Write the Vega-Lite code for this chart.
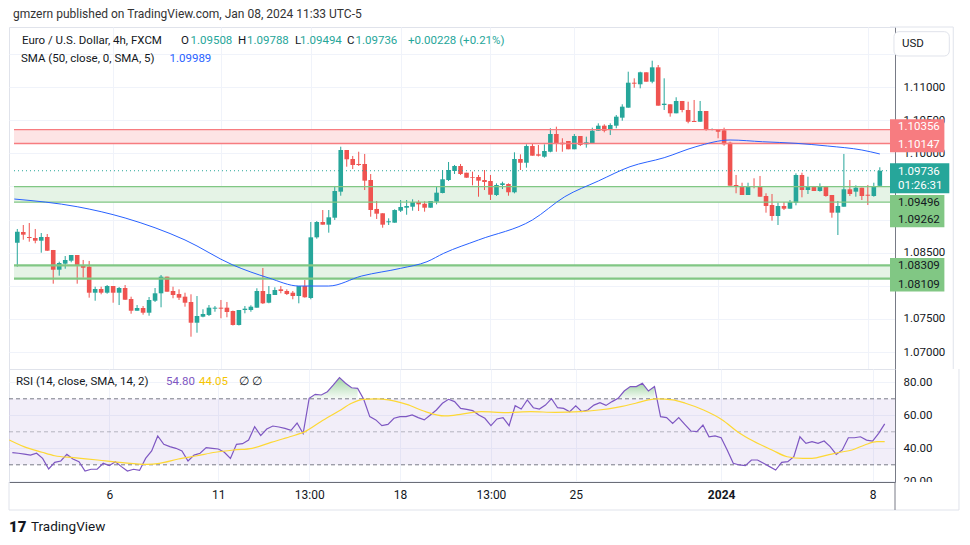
{
"$schema":"https://vega.github.io/schema/vega-lite/v6.json",
"background":"white",
"padding":{"left":6,"top":8,"right":5,"bottom":5},
"title":{"text":"gmzern published on TradingView.com, Jan 08, 2024 11:33 UTC-5","anchor":"start","frame":"group","font":"Roboto","fontSize":12,"fontWeight":"normal","color":"#333333","offset":5,"dx":4},
"config":{"view":{"stroke":"#e0e3eb"},"axis":{"labelFont":"Roboto","labelFontSize":11.5,"labelColor":"#131722","ticks":false,"gridColor":"#f0f3fa","domainColor":"#787b86","labelOverlap":false},"text":{"font":"Roboto","fontSize":11.5}},
"spacing":0,
"bounds":"flush",
"resolve":{"scale":{"x":"independent","y":"independent"}},
"datasets":{
"candles":[
{"i":0,"o":1.0865,"h":1.08857,"l":1.08288,"c":1.08816},
{"i":1,"o":1.08811,"h":1.08917,"l":1.08695,"c":1.08771},
{"i":2,"o":1.08736,"h":1.08947,"l":1.08665,"c":1.08721},
{"i":3,"o":1.08721,"h":1.08857,"l":1.08641,"c":1.0868},
{"i":4,"o":1.0868,"h":1.08796,"l":1.08499,"c":1.08736},
{"i":5,"o":1.08736,"h":1.08781,"l":1.08525,"c":1.08529},
{"i":6,"o":1.0854,"h":1.0854,"l":1.08031,"c":1.08242},
{"i":7,"o":1.08242,"h":1.08363,"l":1.08152,"c":1.08343},
{"i":8,"o":1.08333,"h":1.08449,"l":1.08257,"c":1.08389},
{"i":9,"o":1.08378,"h":1.08464,"l":1.08354,"c":1.08464},
{"i":10,"o":1.08464,"h":1.08464,"l":1.08031,"c":1.08298},
{"i":11,"o":1.08313,"h":1.08389,"l":1.08122,"c":1.08272},
{"i":12,"o":1.08288,"h":1.08374,"l":1.0782,"c":1.07895},
{"i":13,"o":1.07895,"h":1.07986,"l":1.07774,"c":1.07951},
{"i":14,"o":1.07951,"h":1.07986,"l":1.07871,"c":1.07895},
{"i":15,"o":1.07895,"h":1.08011,"l":1.0788,"c":1.07996},
{"i":16,"o":1.07996,"h":1.07996,"l":1.07744,"c":1.07895},
{"i":17,"o":1.07895,"h":1.07981,"l":1.07709,"c":1.07966},
{"i":18,"o":1.07966,"h":1.08011,"l":1.07789,"c":1.07789},
{"i":19,"o":1.078,"h":1.07835,"l":1.07578,"c":1.07623},
{"i":20,"o":1.07623,"h":1.07709,"l":1.07623,"c":1.07664},
{"i":21,"o":1.07664,"h":1.07694,"l":1.07563,"c":1.07593},
{"i":22,"o":1.07593,"h":1.0783,"l":1.07548,"c":1.07785},
{"i":23,"o":1.07774,"h":1.07966,"l":1.07755,"c":1.07886},
{"i":24,"o":1.07886,"h":1.08162,"l":1.07675,"c":1.08137},
{"i":25,"o":1.08137,"h":1.08137,"l":1.0791,"c":1.0791},
{"i":26,"o":1.07921,"h":1.07986,"l":1.07811,"c":1.0786},
{"i":27,"o":1.07875,"h":1.07946,"l":1.07785,"c":1.0782},
{"i":28,"o":1.07835,"h":1.07895,"l":1.07684,"c":1.07744},
{"i":29,"o":1.07755,"h":1.07871,"l":1.07231,"c":1.07442},
{"i":30,"o":1.07442,"h":1.07845,"l":1.07291,"c":1.07543},
{"i":31,"o":1.07533,"h":1.07645,"l":1.07524,"c":1.07574},
{"i":32,"o":1.07559,"h":1.07709,"l":1.07543,"c":1.07669},
{"i":33,"o":1.07654,"h":1.07694,"l":1.07608,"c":1.07669},
{"i":34,"o":1.07669,"h":1.07785,"l":1.07509,"c":1.07654},
{"i":35,"o":1.07669,"h":1.07755,"l":1.07524,"c":1.07604},
{"i":36,"o":1.07619,"h":1.07625,"l":1.074,"c":1.07408},
{"i":37,"o":1.07408,"h":1.07634,"l":1.074,"c":1.07634},
{"i":38,"o":1.07634,"h":1.07694,"l":1.07584,"c":1.07654},
{"i":39,"o":1.07634,"h":1.07705,"l":1.07608,"c":1.07684},
{"i":40,"o":1.07669,"h":1.07962,"l":1.07669,"c":1.07921},
{"i":41,"o":1.07921,"h":1.08268,"l":1.07725,"c":1.07735},
{"i":42,"o":1.07744,"h":1.07996,"l":1.07735,"c":1.07875},
{"i":43,"o":1.0786,"h":1.07977,"l":1.0786,"c":1.07936},
{"i":44,"o":1.07946,"h":1.07996,"l":1.07886,"c":1.07921},
{"i":45,"o":1.07921,"h":1.07946,"l":1.0786,"c":1.07875},
{"i":46,"o":1.07895,"h":1.07921,"l":1.07796,"c":1.07845},
{"i":47,"o":1.07845,"h":1.07996,"l":1.07735,"c":1.07996},
{"i":48,"o":1.07996,"h":1.08087,"l":1.0782,"c":1.07826},
{"i":49,"o":1.07815,"h":1.08962,"l":1.07796,"c":1.08731},
{"i":50,"o":1.08731,"h":1.08977,"l":1.0871,"c":1.08962},
{"i":51,"o":1.08962,"h":1.09143,"l":1.08922,"c":1.08922},
{"i":52,"o":1.08922,"h":1.09143,"l":1.08801,"c":1.09033},
{"i":53,"o":1.09027,"h":1.09506,"l":1.08993,"c":1.0943},
{"i":54,"o":1.0942,"h":1.10099,"l":1.09359,"c":1.10049},
{"i":55,"o":1.10049,"h":1.10049,"l":1.09797,"c":1.09909},
{"i":56,"o":1.09913,"h":1.09959,"l":1.09762,"c":1.09823},
{"i":57,"o":1.09838,"h":1.10023,"l":1.09808,"c":1.09823},
{"i":58,"o":1.09838,"h":1.09989,"l":1.09445,"c":1.09586},
{"i":59,"o":1.09596,"h":1.09687,"l":1.09042,"c":1.09143},
{"i":60,"o":1.09159,"h":1.09279,"l":1.09008,"c":1.09088},
{"i":61,"o":1.09094,"h":1.09094,"l":1.08876,"c":1.08922},
{"i":62,"o":1.08958,"h":1.09018,"l":1.08917,"c":1.08973},
{"i":63,"o":1.08952,"h":1.09154,"l":1.08952,"c":1.09143},
{"i":64,"o":1.09133,"h":1.09294,"l":1.09113,"c":1.09189},
{"i":65,"o":1.09178,"h":1.09294,"l":1.09072,"c":1.09204},
{"i":66,"o":1.09193,"h":1.09305,"l":1.09133,"c":1.09264},
{"i":67,"o":1.09264,"h":1.0929,"l":1.09128,"c":1.09229},
{"i":68,"o":1.09238,"h":1.09275,"l":1.09118,"c":1.09178},
{"i":69,"o":1.09178,"h":1.09279,"l":1.09178,"c":1.09279},
{"i":70,"o":1.09269,"h":1.09495,"l":1.09229,"c":1.09405},
{"i":71,"o":1.094,"h":1.09747,"l":1.09395,"c":1.09607},
{"i":72,"o":1.09596,"h":1.09868,"l":1.09581,"c":1.09747},
{"i":73,"o":1.09732,"h":1.09823,"l":1.09687,"c":1.09808},
{"i":74,"o":1.09808,"h":1.09838,"l":1.09672,"c":1.09687},
{"i":75,"o":1.09706,"h":1.09706,"l":1.09631,"c":1.09631},
{"i":76,"o":1.09642,"h":1.09722,"l":1.09516,"c":1.09631},
{"i":77,"o":1.09642,"h":1.09672,"l":1.09344,"c":1.09586},
{"i":78,"o":1.09596,"h":1.09747,"l":1.09445,"c":1.09566},
{"i":79,"o":1.09581,"h":1.09672,"l":1.09294,"c":1.09374},
{"i":80,"o":1.0937,"h":1.09546,"l":1.09355,"c":1.09521},
{"i":81,"o":1.09521,"h":1.09571,"l":1.0946,"c":1.09546},
{"i":82,"o":1.09536,"h":1.09546,"l":1.09359,"c":1.09411},
{"i":83,"o":1.09411,"h":1.10014,"l":1.09395,"c":1.09913},
{"i":84,"o":1.09913,"h":1.09984,"l":1.09747,"c":1.09857},
{"i":85,"o":1.09857,"h":1.10135,"l":1.09782,"c":1.10109},
{"i":86,"o":1.10109,"h":1.1014,"l":1.09963,"c":1.09963},
{"i":87,"o":1.09984,"h":1.10125,"l":1.09951,"c":1.09963},
{"i":88,"o":1.09948,"h":1.10135,"l":1.09933,"c":1.10034},
{"i":89,"o":1.10023,"h":1.10377,"l":1.10014,"c":1.10291},
{"i":90,"o":1.10291,"h":1.10401,"l":1.10023,"c":1.1014},
{"i":91,"o":1.10159,"h":1.10226,"l":1.10023,"c":1.10135},
{"i":92,"o":1.10185,"h":1.10185,"l":1.1006,"c":1.1006},
{"i":93,"o":1.1006,"h":1.10291,"l":1.1006,"c":1.1026},
{"i":94,"o":1.1026,"h":1.1026,"l":1.10109,"c":1.10125},
{"i":95,"o":1.10135,"h":1.1025,"l":1.10084,"c":1.10165},
{"i":96,"o":1.1015,"h":1.10386,"l":1.1015,"c":1.1034},
{"i":97,"o":1.1034,"h":1.10452,"l":1.1034,"c":1.10416},
{"i":98,"o":1.10416,"h":1.10437,"l":1.10316,"c":1.1034},
{"i":99,"o":1.10351,"h":1.10452,"l":1.10275,"c":1.10426},
{"i":100,"o":1.10416,"h":1.10577,"l":1.10377,"c":1.10552},
{"i":101,"o":1.10537,"h":1.10739,"l":1.10491,"c":1.10703},
{"i":102,"o":1.10688,"h":1.11231,"l":1.10688,"c":1.11065},
{"i":103,"o":1.11065,"h":1.11131,"l":1.10989,"c":1.1105},
{"i":104,"o":1.11041,"h":1.11231,"l":1.1098,"c":1.11222},
{"i":105,"o":1.11222,"h":1.11222,"l":1.1108,"c":1.1108},
{"i":106,"o":1.1108,"h":1.11397,"l":1.11056,"c":1.11297},
{"i":107,"o":1.11297,"h":1.11332,"l":1.10718,"c":1.10718},
{"i":108,"o":1.10728,"h":1.11131,"l":1.10653,"c":1.10748},
{"i":109,"o":1.10739,"h":1.10739,"l":1.10552,"c":1.10603},
{"i":110,"o":1.10603,"h":1.10845,"l":1.10603,"c":1.10789},
{"i":111,"o":1.10789,"h":1.10789,"l":1.10618,"c":1.10653},
{"i":112,"o":1.10653,"h":1.10778,"l":1.10452,"c":1.10476},
{"i":113,"o":1.10487,"h":1.10804,"l":1.10472,"c":1.10472},
{"i":114,"o":1.10476,"h":1.10789,"l":1.10476,"c":1.10638},
{"i":115,"o":1.10638,"h":1.10638,"l":1.1034,"c":1.10366},
{"i":116,"o":1.10355,"h":1.10374,"l":1.10346,"c":1.10366},
{"i":117,"o":1.10366,"h":1.10366,"l":1.10226,"c":1.10325},
{"i":118,"o":1.10346,"h":1.10386,"l":1.10114,"c":1.10135},
{"i":119,"o":1.10159,"h":1.10174,"l":1.0951,"c":1.0951},
{"i":120,"o":1.09521,"h":1.09672,"l":1.09396,"c":1.09495},
{"i":121,"o":1.09506,"h":1.09555,"l":1.0937,"c":1.0937},
{"i":122,"o":1.0937,"h":1.09555,"l":1.0937,"c":1.09506},
{"i":123,"o":1.09506,"h":1.09622,"l":1.09471,"c":1.09491},
{"i":124,"o":1.09506,"h":1.09657,"l":1.09344,"c":1.09344},
{"i":125,"o":1.09355,"h":1.09396,"l":1.09103,"c":1.09204},
{"i":126,"o":1.09219,"h":1.09385,"l":1.08982,"c":1.09053},
{"i":127,"o":1.09053,"h":1.09254,"l":1.08917,"c":1.09204},
{"i":128,"o":1.09204,"h":1.09264,"l":1.09143,"c":1.09163},
{"i":129,"o":1.09163,"h":1.09294,"l":1.09163,"c":1.09264},
{"i":130,"o":1.09254,"h":1.09697,"l":1.09214,"c":1.09672},
{"i":131,"o":1.09672,"h":1.09706,"l":1.09335,"c":1.09445},
{"i":132,"o":1.09445,"h":1.09646,"l":1.09385,"c":1.09506},
{"i":133,"o":1.09506,"h":1.09506,"l":1.0943,"c":1.0943},
{"i":134,"o":1.0943,"h":1.09546,"l":1.0942,"c":1.09506},
{"i":135,"o":1.09506,"h":1.09506,"l":1.09344,"c":1.09355},
{"i":136,"o":1.0937,"h":1.0937,"l":1.09027,"c":1.09103},
{"i":137,"o":1.09103,"h":1.09279,"l":1.08766,"c":1.09204},
{"i":138,"o":1.09193,"h":1.09989,"l":1.09193,"c":1.09456},
{"i":139,"o":1.09456,"h":1.09596,"l":1.09355,"c":1.09385},
{"i":140,"o":1.0942,"h":1.09516,"l":1.09344,"c":1.0948},
{"i":141,"o":1.0948,"h":1.0948,"l":1.09294,"c":1.09355},
{"i":142,"o":1.09374,"h":1.09521,"l":1.09219,"c":1.09359},
{"i":143,"o":1.09355,"h":1.09555,"l":1.09344,"c":1.09506},
{"i":144,"o":1.09508,"h":1.09788,"l":1.09494,"c":1.09736}
],
"sma":[
{"i":-0.5,"v":1.09309},{"i":10,"v":1.09193},{"i":18,"v":1.09023},{"i":28,"v":1.08691},{"i":36,"v":1.08313},{"i":42,"v":1.08117},{"i":47,"v":1.07996},{"i":52,"v":1.07996},{"i":57.5,"v":1.08147},{"i":64,"v":1.08263},{"i":68.4,"v":1.08363},{"i":71.2,"v":1.0849},{"i":77,"v":1.08691},{"i":86,"v":1.08993},{"i":91.4,"v":1.09344},{"i":97,"v":1.09581},{"i":102.3,"v":1.09797},{"i":108,"v":1.09933},{"i":113.3,"v":1.10099},{"i":119,"v":1.102},{"i":124.4,"v":1.10174},{"i":130,"v":1.1015},{"i":135.3,"v":1.10109},{"i":141,"v":1.10049},{"i":144,"v":1.09989}
],
"rsi":[
{"i":0,"v":37.4},{"i":1,"v":37.0},{"i":2,"v":36.5},{"i":3,"v":35.9},{"i":4,"v":37.0},{"i":5,"v":33.9},{"i":6,"v":27.5},{"i":7,"v":31.5},{"i":8,"v":32.3},{"i":9,"v":36.3},
{"i":10,"v":33.5},{"i":11,"v":31.9},{"i":12,"v":26.2},{"i":13,"v":27.3},{"i":14,"v":27.3},{"i":15,"v":30.9},{"i":16,"v":29.5},{"i":17,"v":31.9},{"i":18,"v":28.9},{"i":19,"v":26.2},
{"i":20,"v":27.3},{"i":21,"v":26.6},{"i":22,"v":33.9},{"i":23,"v":38.4},{"i":24,"v":47.5},{"i":25,"v":42.4},{"i":26,"v":41.0},{"i":27,"v":40.0},{"i":28,"v":38.4},{"i":29,"v":32.3},
{"i":30,"v":35.9},{"i":31,"v":37.0},{"i":32,"v":40.4},{"i":33,"v":40.0},{"i":34,"v":39.6},{"i":35,"v":37.6},{"i":36,"v":33.9},{"i":37,"v":42.4},{"i":38,"v":42.8},{"i":39,"v":45.0},
{"i":40,"v":53.1},{"i":41,"v":47.7},{"i":42,"v":51.7},{"i":43,"v":53.5},{"i":44,"v":52.9},{"i":45,"v":52.1},{"i":46,"v":50.9},{"i":47,"v":55.3},{"i":48,"v":48.9},{"i":49,"v":70.3},
{"i":50,"v":72.7},{"i":51,"v":72.3},{"i":52,"v":74.3},{"i":53,"v":78.4},{"i":54,"v":82.8},{"i":55,"v":79.4},{"i":56,"v":76.7},{"i":57,"v":76.3},{"i":58,"v":69.7},{"i":59,"v":59.2},
{"i":60,"v":57.2},{"i":61,"v":53.7},{"i":62,"v":54.5},{"i":63,"v":58.2},{"i":64,"v":59.2},{"i":65,"v":59.2},{"i":66,"v":60.2},{"i":67,"v":58.6},{"i":68,"v":57.2},{"i":69,"v":60.2},
{"i":70,"v":63.2},{"i":71,"v":67.3},{"i":72,"v":69.7},{"i":73,"v":68.3},{"i":74,"v":64.2},{"i":75,"v":63.6},{"i":76,"v":62.8},{"i":77,"v":60.2},{"i":78,"v":58.2},{"i":79,"v":53.7},
{"i":80,"v":57.8},{"i":81,"v":58.6},{"i":82,"v":53.7},{"i":83,"v":65.8},{"i":84,"v":63.8},{"i":85,"v":69.3},{"i":86,"v":64.6},{"i":87,"v":63.8},{"i":88,"v":66.2},{"i":89,"v":70.1},
{"i":90,"v":64.6},{"i":91,"v":64.2},{"i":92,"v":62.2},{"i":93,"v":65.8},{"i":94,"v":62.2},{"i":95,"v":63.2},{"i":96,"v":66.2},{"i":97,"v":67.7},{"i":98,"v":66.0},{"i":99,"v":68.3},
{"i":100,"v":70.3},{"i":101,"v":74.7},{"i":102,"v":77.4},{"i":103,"v":77.4},{"i":104,"v":79.4},{"i":105,"v":74.7},{"i":106,"v":77.4},{"i":107,"v":59.2},{"i":108,"v":58.6},{"i":109,"v":55.1},
{"i":110,"v":58.6},{"i":111,"v":54.5},{"i":112,"v":50.5},{"i":113,"v":50.1},{"i":114,"v":54.1},{"i":115,"v":47.0},{"i":116,"v":47.5},{"i":117,"v":46.4},{"i":118,"v":39.0},{"i":119,"v":30.9},
{"i":120,"v":29.9},{"i":121,"v":29.5},{"i":122,"v":32.9},{"i":123,"v":32.9},{"i":124,"v":30.9},{"i":125,"v":28.9},{"i":126,"v":26.8},{"i":127,"v":31.5},{"i":128,"v":31.9},{"i":129,"v":34.9},
{"i":130,"v":47.0},{"i":131,"v":43.0},{"i":132,"v":44.0},{"i":133,"v":43.0},{"i":134,"v":44.4},{"i":135,"v":41.0},{"i":136,"v":36.3},{"i":137,"v":39.0},{"i":138,"v":46.4},{"i":139,"v":46.4},
{"i":140,"v":47.0},{"i":141,"v":45.0},{"i":142,"v":44.4},{"i":143,"v":49.1},{"i":144,"v":54.8}
],
"rsima":[
{"i":-0.5,"v":45.0},{"i":1.9,"v":41.0},{"i":4.9,"v":37.6},{"i":7,"v":35.5},{"i":10.1,"v":34.3},{"i":14.1,"v":32.9},{"i":18.2,"v":31.3},{"i":22.3,"v":30.3},{"i":24.3,"v":30.9},{"i":27.4,"v":33.5},{"i":30.5,"v":35.5},{"i":33.5,"v":37.6},{"i":36.6,"v":39.0},{"i":39.6,"v":40.0},{"i":42.7,"v":43.6},{"i":45.8,"v":47.0},{"i":48.3,"v":50.1},{"i":50.9,"v":56.1},{"i":53.9,"v":62.6},{"i":56,"v":67.3},{"i":58,"v":69.7},{"i":60,"v":69.9},{"i":62.1,"v":69.3},{"i":65.1,"v":66.6},{"i":68.2,"v":62.2},{"i":71.3,"v":59.6},{"i":73.3,"v":60.2},{"i":77.4,"v":62.2},{"i":81.5,"v":61.6},{"i":85.6,"v":62.2},{"i":89.6,"v":61.8},{"i":93.7,"v":62.2},{"i":96.8,"v":63.2},{"i":99.8,"v":64.8},{"i":102.9,"v":67.3},{"i":105,"v":69.3},{"i":106.5,"v":69.9},{"i":109,"v":69.3},{"i":111.1,"v":67.3},{"i":114.1,"v":63.2},{"i":117.2,"v":57.2},{"i":119.7,"v":50.1},{"i":122.3,"v":44.4},{"i":125.4,"v":39.0},{"i":127.9,"v":34.9},{"i":130.5,"v":33.9},{"i":132,"v":33.9},{"i":134.5,"v":35.9},{"i":136.6,"v":37.6},{"i":138.6,"v":39.0},{"i":140.7,"v":42.0},{"i":142.7,"v":44.0},{"i":144,"v":44.05}
],
"zones":[
{"kind":"resistance","lo":1.10147,"hi":1.10356},
{"kind":"support","lo":1.09262,"hi":1.09496},
{"kind":"support2","lo":1.08109,"hi":1.08309}
]
},
"vconcat":[
{
"width":886,"height":342,
"layer":[
{"data":{"name":"zones"},"mark":{"type":"rect"},
 "encoding":{"x":{"datum":-0.55,"type":"quantitative"},"x2":{"datum":145.7},"y":{"field":"hi","type":"quantitative"},"y2":{"field":"lo"},
 "fill":{"field":"kind","type":"nominal","scale":{"domain":["resistance","support","support2"],"range":["#fde4e5","#e5f3e6","#e5f3e6"]},"legend":null}}},
{"data":{"name":"candles"},"mark":{"type":"rule","strokeWidth":1},
 "encoding":{"x":{"field":"i","type":"quantitative","scale":{"domain":[-0.55,145.7],"nice":false,"zero":false},"axis":{"values":[16,34,49,64,79,93,117,142],"tickCount":40,"labels":false,"domain":false,"ticks":false,"grid":true,"title":null}},
 "y":{"field":"l","type":"quantitative","scale":{"domain":[1.067434,1.119057],"nice":false,"zero":false},"axis":{"orient":"right","values":[1.07,1.075,1.08,1.085,1.09,1.095,1.1,1.105,1.11,1.115],"tickCount":40,"labelExpr":"(abs(datum.value-1.08)<0.0001 || abs(datum.value-1.09)<0.0001 || abs(datum.value-1.095)<0.0001 || abs(datum.value-1.115)<0.0001) ? '' : format(datum.value, '.5f')","labelPadding":8,"labelOverlap":false,"labelBound":false,"grid":true,"domain":true,"title":null}},
 "y2":{"field":"h"},
 "color":{"condition":{"test":"datum.c >= datum.o","value":"#26a69a"},"value":"#ef5350"}}},
{"data":{"name":"candles"},"mark":{"type":"bar","width":4.6},
 "encoding":{"x":{"field":"i","type":"quantitative"},"y":{"field":"o","type":"quantitative"},"y2":{"field":"c"},
 "color":{"condition":{"test":"datum.c >= datum.o","value":"#26a69a"},"value":"#ef5350"}}},
{"data":{"name":"zones"},"mark":{"type":"rule"},
 "encoding":{"x":{"datum":-0.55,"type":"quantitative"},"x2":{"datum":145.7},"y":{"field":"hi","type":"quantitative"},
 "stroke":{"field":"kind","type":"nominal","scale":{"domain":["resistance","support","support2"],"range":["#f77c80","#81c784","#81c784"]},"legend":null},
 "strokeWidth":{"condition":{"test":"datum.kind == 'support2'","value":2.2},"value":1.3}}},
{"data":{"name":"zones"},"mark":{"type":"rule"},
 "encoding":{"x":{"datum":-0.55,"type":"quantitative"},"x2":{"datum":145.7},"y":{"field":"lo","type":"quantitative"},
 "stroke":{"field":"kind","type":"nominal","legend":null},
 "strokeWidth":{"condition":{"test":"datum.kind == 'support2'","value":2.2},"value":1.3}}},
{"data":{"name":"sma"},"mark":{"type":"line","color":"#2962ff","strokeWidth":1,"interpolate":"monotone"},
 "encoding":{"x":{"field":"i","type":"quantitative"},"y":{"field":"v","type":"quantitative"}}},
{"data":{"values":[{}]},"mark":{"type":"rule","color":"#26a69a","strokeDash":[1,3],"strokeWidth":1},
 "encoding":{"x":{"datum":-0.55,"type":"quantitative"},"x2":{"datum":145.7},"y":{"datum":1.09736,"type":"quantitative"}}},
{"data":{"values":[{}]},"mark":{"type":"text","align":"left","baseline":"middle","color":"#131722","dx":8},
 "encoding":{"x":{"datum":-0.55,"type":"quantitative"},"y":{"datum":1.116943,"type":"quantitative"},"text":{"value":"Euro / U.S. Dollar, 4h, FXCM"}}},
{"data":{"values":[{}]},"mark":{"type":"text","align":"left","baseline":"middle","color":"#131722","dx":167},
 "encoding":{"x":{"datum":-0.55,"type":"quantitative"},"y":{"datum":1.116943,"type":"quantitative"},"text":{"value":"O"}}},
{"data":{"values":[{}]},"mark":{"type":"text","align":"left","baseline":"middle","color":"#26a69a","dx":176.5},
 "encoding":{"x":{"datum":-0.55,"type":"quantitative"},"y":{"datum":1.116943,"type":"quantitative"},"text":{"value":"1.09508"}}},
{"data":{"values":[{}]},"mark":{"type":"text","align":"left","baseline":"middle","color":"#131722","dx":224},
 "encoding":{"x":{"datum":-0.55,"type":"quantitative"},"y":{"datum":1.116943,"type":"quantitative"},"text":{"value":"H"}}},
{"data":{"values":[{}]},"mark":{"type":"text","align":"left","baseline":"middle","color":"#26a69a","dx":233},
 "encoding":{"x":{"datum":-0.55,"type":"quantitative"},"y":{"datum":1.116943,"type":"quantitative"},"text":{"value":"1.09788"}}},
{"data":{"values":[{}]},"mark":{"type":"text","align":"left","baseline":"middle","color":"#131722","dx":281},
 "encoding":{"x":{"datum":-0.55,"type":"quantitative"},"y":{"datum":1.116943,"type":"quantitative"},"text":{"value":"L"}}},
{"data":{"values":[{}]},"mark":{"type":"text","align":"left","baseline":"middle","color":"#26a69a","dx":286},
 "encoding":{"x":{"datum":-0.55,"type":"quantitative"},"y":{"datum":1.116943,"type":"quantitative"},"text":{"value":"1.09494"}}},
{"data":{"values":[{}]},"mark":{"type":"text","align":"left","baseline":"middle","color":"#131722","dx":333},
 "encoding":{"x":{"datum":-0.55,"type":"quantitative"},"y":{"datum":1.116943,"type":"quantitative"},"text":{"value":"C"}}},
{"data":{"values":[{}]},"mark":{"type":"text","align":"left","baseline":"middle","color":"#26a69a","dx":341.5},
 "encoding":{"x":{"datum":-0.55,"type":"quantitative"},"y":{"datum":1.116943,"type":"quantitative"},"text":{"value":"1.09736"}}},
{"data":{"values":[{}]},"mark":{"type":"text","align":"left","baseline":"middle","color":"#26a69a","dx":394},
 "encoding":{"x":{"datum":-0.55,"type":"quantitative"},"y":{"datum":1.116943,"type":"quantitative"},"text":{"value":"+0.00228 (+0.21%)"}}},
{"data":{"values":[{}]},"mark":{"type":"text","align":"left","baseline":"middle","color":"#131722","dx":7},
 "encoding":{"x":{"datum":-0.55,"type":"quantitative"},"y":{"datum":1.114226,"type":"quantitative"},"text":{"value":"SMA (50, close, 0, SMA, 5)"}}},
{"data":{"values":[{}]},"mark":{"type":"text","align":"left","baseline":"middle","color":"#2962ff","dx":155.5},
 "encoding":{"x":{"datum":-0.55,"type":"quantitative"},"y":{"datum":1.114226,"type":"quantitative"},"text":{"value":"1.09989"}}},
{"data":{"values":[{}]},"mark":{"type":"rect","fill":"#f77c80","yOffset":-10.4,"y2Offset":8.8},
 "encoding":{"x":{"datum":145.7,"type":"quantitative"},"x2":{"datum":154.78},"y":{"datum":1.10356,"type":"quantitative"},"y2":{"datum":1.10147}}},
{"data":{"values":[{}]},"mark":{"type":"rect","fill":"#26a69a","yOffset":-7.4,"y2Offset":22.6},
 "encoding":{"x":{"datum":145.7,"type":"quantitative"},"x2":{"datum":155.6},"y":{"datum":1.09736,"type":"quantitative"},"y2":{"datum":1.09736}}},
{"data":{"values":[{}]},"mark":{"type":"rect","fill":"#81c784","yOffset":8.4,"y2Offset":25.2},
 "encoding":{"x":{"datum":145.7,"type":"quantitative"},"x2":{"datum":154.78},"y":{"datum":1.09496,"type":"quantitative"},"y2":{"datum":1.09262}}},
{"data":{"values":[{}]},"mark":{"type":"rect","fill":"#81c784","yOffset":-7.2,"y2Offset":12.9},
 "encoding":{"x":{"datum":145.7,"type":"quantitative"},"x2":{"datum":154.78},"y":{"datum":1.08309,"type":"quantitative"},"y2":{"datum":1.08109}}},
{"data":{"values":[{}]},"mark":{"type":"text","align":"left","baseline":"middle","color":"white","dx":8,"dy":-2.4,"fontSize":11.5},
 "encoding":{"x":{"datum":145.7,"type":"quantitative"},"y":{"datum":1.10356,"type":"quantitative"},"text":{"value":"1.10356"}}},
{"data":{"values":[{}]},"mark":{"type":"text","align":"left","baseline":"middle","color":"white","dx":8,"dy":1.5,"fontSize":11.5},
 "encoding":{"x":{"datum":145.7,"type":"quantitative"},"y":{"datum":1.10147,"type":"quantitative"},"text":{"value":"1.10147"}}},
{"data":{"values":[{}]},"mark":{"type":"text","align":"left","baseline":"middle","color":"white","dx":8,"dy":1,"fontSize":11.5},
 "encoding":{"x":{"datum":145.7,"type":"quantitative"},"y":{"datum":1.09736,"type":"quantitative"},"text":{"value":"1.09736"}}},
{"data":{"values":[{}]},"mark":{"type":"text","align":"left","baseline":"middle","color":"white","dx":8,"dy":15,"fontSize":11.5},
 "encoding":{"x":{"datum":145.7,"type":"quantitative"},"y":{"datum":1.09736,"type":"quantitative"},"text":{"value":"01:26:31"}}},
{"data":{"values":[{}]},"mark":{"type":"text","align":"left","baseline":"middle","color":"#131722","dx":8,"dy":16.1,"fontSize":11.5},
 "encoding":{"x":{"datum":145.7,"type":"quantitative"},"y":{"datum":1.09496,"type":"quantitative"},"text":{"value":"1.09496"}}},
{"data":{"values":[{}]},"mark":{"type":"text","align":"left","baseline":"middle","color":"#131722","dx":8,"dy":17.9,"fontSize":11.5},
 "encoding":{"x":{"datum":145.7,"type":"quantitative"},"y":{"datum":1.09262,"type":"quantitative"},"text":{"value":"1.09262"}}},
{"data":{"values":[{}]},"mark":{"type":"text","align":"left","baseline":"middle","color":"#131722","dx":8,"dy":1.2,"fontSize":11.5},
 "encoding":{"x":{"datum":145.7,"type":"quantitative"},"y":{"datum":1.08309,"type":"quantitative"},"text":{"value":"1.08309"}}},
{"data":{"values":[{}]},"mark":{"type":"text","align":"left","baseline":"middle","color":"#131722","dx":8,"dy":6.2,"fontSize":11.5},
 "encoding":{"x":{"datum":145.7,"type":"quantitative"},"y":{"datum":1.08109,"type":"quantitative"},"text":{"value":"1.08109"}}},
{"data":{"values":[{}]},"mark":{"type":"rect","fill":"white","stroke":"#e0e3eb","cornerRadius":5},
 "encoding":{"x":{"datum":146.36,"type":"quantitative"},"x2":{"datum":155.6},"y":{"datum":1.11835,"type":"quantitative"},"y2":{"datum":1.11468}}},
{"data":{"values":[{}]},"mark":{"type":"text","align":"left","baseline":"middle","color":"#131722","dx":12},
 "encoding":{"x":{"datum":145.7,"type":"quantitative"},"y":{"datum":1.11649,"type":"quantitative"},"text":{"value":"USD"}}},
{"data":{"values":[{}]},"mark":{"type":"rule","color":"#e0e3eb"},
 "encoding":{"x":{"datum":145.7,"type":"quantitative"},"x2":{"datum":156.26},"y":{"datum":1.119057,"type":"quantitative"}}},
{"data":{"values":[{}]},"mark":{"type":"rule","color":"#e0e3eb"},
 "encoding":{"x":{"datum":156.26,"type":"quantitative"},"y":{"datum":1.067434,"type":"quantitative"},"y2":{"datum":1.119057}}}
]
},
{
"width":886,"height":113,
"layer":[
{"data":{"values":[{}]},"mark":{"type":"rect","fill":"#7e57c2","opacity":0.1},
 "encoding":{"x":{"datum":-0.55,"type":"quantitative"},"x2":{"datum":145.7},"y":{"datum":70,"type":"quantitative"},"y2":{"datum":30}}},
{"data":{"name":"rsi"},"transform":[{"filter":"datum.i < 80 && datum.v >= 70.2"}],
 "mark":{"type":"area","color":{"x1":0,"y1":0,"x2":0,"y2":1,"gradient":"linear","stops":[{"offset":0,"color":"rgba(76,175,80,0.5)"},{"offset":1,"color":"rgba(76,175,80,0.05)"}]}},
 "encoding":{"x":{"field":"i","type":"quantitative"},"y":{"field":"v","type":"quantitative"},"y2":{"datum":70}}},
{"data":{"name":"rsi"},"transform":[{"filter":"datum.i > 80 && datum.v >= 70.2"}],
 "mark":{"type":"area","color":{"x1":0,"y1":0,"x2":0,"y2":1,"gradient":"linear","stops":[{"offset":0,"color":"rgba(76,175,80,0.5)"},{"offset":1,"color":"rgba(76,175,80,0.05)"}]}},
 "encoding":{"x":{"field":"i","type":"quantitative"},"y":{"field":"v","type":"quantitative"},"y2":{"datum":70}}},
{"data":{"values":[{"lvl":70},{"lvl":30}]},"mark":{"type":"rule","color":"#787b86","strokeDash":[4,3],"strokeWidth":1},
 "encoding":{"x":{"datum":-0.55,"type":"quantitative"},"x2":{"datum":145.7},"y":{"field":"lvl","type":"quantitative"}}},
{"data":{"values":[{"lvl":50}]},"mark":{"type":"rule","color":"#787b86","opacity":0.5,"strokeDash":[4,3],"strokeWidth":1},
 "encoding":{"x":{"datum":-0.55,"type":"quantitative"},"x2":{"datum":145.7},"y":{"field":"lvl","type":"quantitative"}}},
{"data":{"name":"rsi"},"mark":{"type":"line","color":"#7e57c2","strokeWidth":1.2},
 "encoding":{"x":{"field":"i","type":"quantitative","scale":{"domain":[-0.55,145.7],"nice":false,"zero":false},
  "axis":{"values":[16,34,49,64,79,93,117,142],"tickCount":40,"labelExpr":"datum.value==16?'6':datum.value==34?'11':datum.value==49?'13:00':datum.value==64?'18':datum.value==79?'13:00':datum.value==93?'25':datum.value==117?'2024':'8'","labelFontSize":12,"labelFontWeight":{"condition":{"test":"datum.value == 117","value":"bold"},"value":"normal"},"labelPadding":7,"labelOverlap":false,"ticks":false,"grid":true,"domain":true,"domainColor":"#6a6d78","title":null}},
 "y":{"field":"v","type":"quantitative","scale":{"domain":[19.58,88.06],"nice":false,"zero":false},"axis":{"orient":"right","values":[20,40,60,80],"tickCount":40,"format":".2f","labelPadding":8,"labelOverlap":false,"labelBound":false,"grid":true,"domain":true,"title":null}}}},
{"data":{"name":"rsima"},"mark":{"type":"line","color":"#fdd835","strokeWidth":1.2,"interpolate":"monotone"},
 "encoding":{"x":{"field":"i","type":"quantitative"},"y":{"field":"v","type":"quantitative"}}},
{"data":{"values":[{}]},"mark":{"type":"text","align":"left","baseline":"middle","color":"#131722","dx":7},
 "encoding":{"x":{"datum":-0.55,"type":"quantitative"},"y":{"datum":80.4,"type":"quantitative"},"text":{"value":"RSI (14, close, SMA, 14, 2)"}}},
{"data":{"values":[{}]},"mark":{"type":"text","align":"left","baseline":"middle","color":"#7e57c2","dx":157},
 "encoding":{"x":{"datum":-0.55,"type":"quantitative"},"y":{"datum":80.4,"type":"quantitative"},"text":{"value":"54.80"}}},
{"data":{"values":[{}]},"mark":{"type":"text","align":"left","baseline":"middle","color":"#f5c400","dx":190},
 "encoding":{"x":{"datum":-0.55,"type":"quantitative"},"y":{"datum":80.4,"type":"quantitative"},"text":{"value":"44.05"}}},
{"data":{"values":[{}]},"mark":{"type":"text","align":"left","baseline":"middle","color":"#131722","dx":230},
 "encoding":{"x":{"datum":-0.55,"type":"quantitative"},"y":{"datum":80.4,"type":"quantitative"},"text":{"value":"∅  ∅"}}},
{"data":{"values":[{}]},"mark":{"type":"rect","fill":"white"},
 "encoding":{"x":{"datum":145.85,"type":"quantitative"},"x2":{"datum":156.1},"y":{"datum":19.58,"type":"quantitative"},"y2":{"datum":3.0}}},
{"data":{"values":[{}]},"mark":{"type":"rule","color":"#e0e3eb"},
 "encoding":{"x":{"datum":156.26,"type":"quantitative"},"y":{"datum":2.61,"type":"quantitative"},"y2":{"datum":88.06}}},
{"data":{"values":[{}]},"mark":{"type":"rule","color":"#e0e3eb"},
 "encoding":{"x":{"datum":-0.55,"type":"quantitative"},"x2":{"datum":156.26},"y":{"datum":2.61,"type":"quantitative"}}},
{"data":{"values":[{}]},"mark":{"type":"rule","color":"#e0e3eb"},
 "encoding":{"x":{"datum":-0.55,"type":"quantitative"},"y":{"datum":2.61,"type":"quantitative"},"y2":{"datum":19.58}}},
{"data":{"values":[{}]},"mark":{"type":"rule","color":"#787b86"},
 "encoding":{"x":{"datum":145.7,"type":"quantitative"},"y":{"datum":2.61,"type":"quantitative"},"y2":{"datum":19.58}}},
{"data":{"values":[{}]},"mark":{"type":"text","align":"left","baseline":"middle","color":"#131722","fontSize":15,"fontWeight":900,"dx":0},
 "encoding":{"x":{"datum":-0.55,"type":"quantitative"},"y":{"datum":-7.7,"type":"quantitative"},"text":{"value":"17"}}},
{"data":{"values":[{}]},"mark":{"type":"text","align":"left","baseline":"middle","color":"#131722","fontSize":13.5,"dx":22},
 "encoding":{"x":{"datum":-0.55,"type":"quantitative"},"y":{"datum":-7.7,"type":"quantitative"},"text":{"value":"TradingView"}}}
]
}
]
}
